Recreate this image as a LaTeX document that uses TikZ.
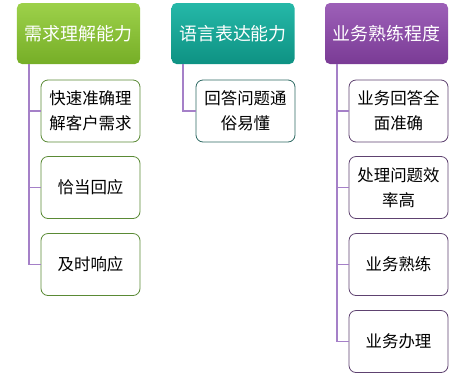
\documentclass[tikz,border=0pt]{standalone}
\usepackage{fontspec}
\newfontfamily\cjk{Noto Sans CJK SC}
\usepackage{tikz}

\definecolor{grntop}{HTML}{9DD14A}
\definecolor{grnbot}{HTML}{76AE27}
\definecolor{tealtop}{HTML}{25B8A8}
\definecolor{tealbot}{HTML}{0E9283}
\definecolor{purtop}{HTML}{9D60B8}
\definecolor{purbot}{HTML}{7A3B95}
\definecolor{grnline}{HTML}{5A8A35}
\definecolor{tealline}{HTML}{2E6A63}
\definecolor{purline}{HTML}{5E4270}
\definecolor{linkcol}{HTML}{A580C8}

\begin{document}
\begin{tikzpicture}[x=1bp,y=-1bp,
    head/.style={rounded corners=5bp,minimum width=123bp,minimum height=61bp,
      text=white,font=\cjk\fontsize{18}{20}\selectfont,inner sep=0pt},
    item/.style={rounded corners=7bp,fill=white,minimum width=99bp,minimum height=62bp,
      align=center,font=\cjk\fontsize{16.5}{25}\selectfont,inner sep=0pt,line width=0.8bp},
    link/.style={draw=linkcol,line width=1.8bp}]
            \useasboundingbox (0,0) rectangle (469,377);
            % headers
            \node[head,top color=grntop,bottom color=grnbot] (h1) at (78.5,33.5) {需求理解能力};
            \node[head,top color=tealtop,bottom color=tealbot] (h2) at (233,33.5) {语言表达能力};
            \node[head,top color=purtop,bottom color=purbot] (h3) at (386.5,33.5) {业务熟练程度};
            % items
            \node[item,draw=grnline] (c11) at (90.5,111) {快速准确理\\解客户需求};
            \node[item,draw=grnline] (c12) at (90.5,187.5) {恰当回应};
            \node[item,draw=grnline] (c13) at (90.5,264.5) {及时响应};
            \node[item,draw=tealline] (c21) at (245.5,111) {回答问题通\\俗易懂};
            \node[item,draw=purline] (c31) at (398.5,111) {业务回答全\\面准确};
            \node[item,draw=purline] (c32) at (398.5,187.5) {处理问题效\\率高};
            \node[item,draw=purline] (c33) at (398.5,264.5) {业务熟练};
            \node[item,draw=purline] (c34) at (398.5,341.5) {业务办理};
            % links
            \foreach \c in {c11,c12,c13}
                \draw[link] ([xshift=12bp]h1.south west) |- (\c.west);
            \draw[link] ([xshift=12bp]h2.south west) |- (c21.west);
            \foreach \c in {c31,c32,c33,c34}
                \draw[link] ([xshift=12bp]h3.south west) |- (\c.west);
        \end{tikzpicture}
\end{document}
